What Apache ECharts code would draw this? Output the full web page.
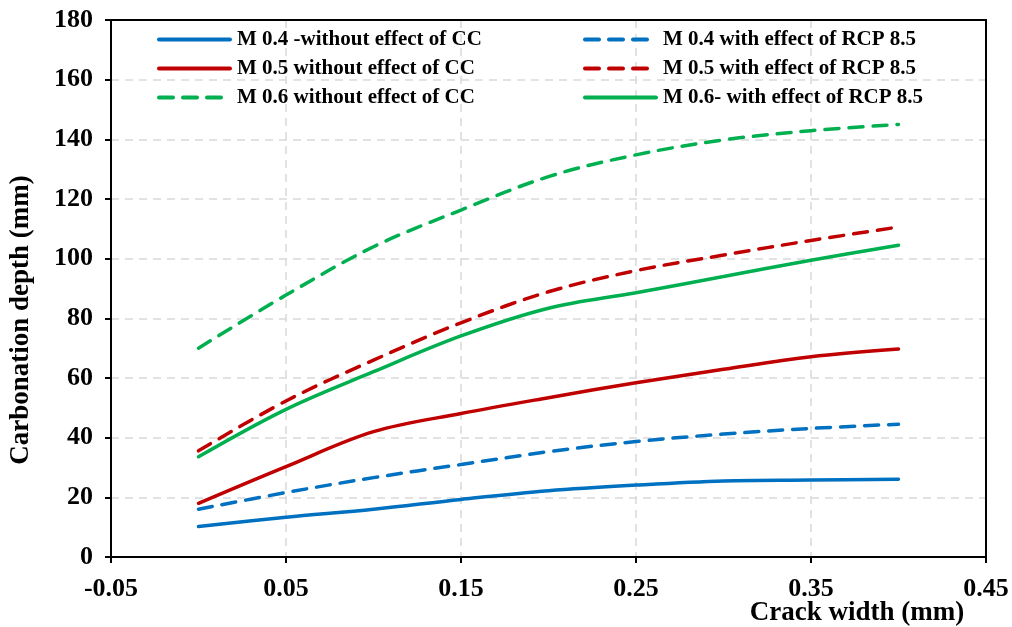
<!DOCTYPE html>
<html>
<head>
<meta charset="utf-8">
<script src="https://cdn.jsdelivr.net/npm/echarts@6/dist/echarts.min.js"></script>
<style>html,body{margin:0;padding:0;background:#fff;}#c{width:1012px;height:627px;}</style>
</head>
<body>
<div id="c"></div>
<script>
var crackWidth = [0, 0.05, 0.1, 0.15, 0.2, 0.25, 0.3, 0.35, 0.4];
var m04NoCC  = [10.2, 13.3, 16.0, 19.3, 22.2, 24.1, 25.5, 25.8, 26.1];
var m04RCP   = [16.0, 21.6, 26.6, 31.0, 35.3, 38.7, 41.2, 43.1, 44.5];
var m05NoCC  = [18.0, 30.3, 42.0, 48.1, 53.4, 58.4, 62.9, 67.1, 69.7];
var m05RCP   = [35.6, 52.3, 66.0, 78.5, 88.9, 96.0, 101.2, 106.1, 110.6];
var m06NoCC  = [70.0, 87.8, 104.0, 116.3, 127.5, 134.8, 139.8, 142.9, 145.0];
var m06RCP   = [33.6, 49.5, 62.1, 74.1, 83.4, 88.6, 94.0, 99.5, 104.5];
var seriesNames = [
  'M 0.4 -without effect of CC',
  'M 0.4 with effect of RCP 8.5',
  'M 0.5 without effect of CC',
  'M 0.5 with effect of RCP 8.5',
  'M 0.6 without effect of CC',
  'M 0.6- with effect of RCP 8.5'
];
var xTitle = 'Crack width (mm)';
var yTitle = 'Carbonation depth (mm)';

var BLUE = '#0070C0', RED = '#C00000', GREEN = '#00B050';
var FONT = '"Liberation Serif", "Times New Roman", serif';
function pairs(ys){ return crackWidth.map(function(x,i){ return [x, ys[i]]; }); }
function mk(name, ys, color, dashed){
  return {
    name: name, type: 'line', data: pairs(ys), smooth: 0.35, symbol: 'none',
    lineStyle: { color: color, width: 3.5, type: dashed ? [14, 10] : 'solid', cap: 'round' },
    itemStyle: { color: color }
  };
}
var chart = echarts.init(document.getElementById('c'));
function legendAt(left, names){
  return {
    orient: 'vertical', top: 24, left: left, itemWidth: 71, itemHeight: 14, itemGap: 8,
    data: names,
    itemStyle: { opacity: 0, borderWidth: 0 },
    lineStyle: { width: 4 },
    textStyle: { fontFamily: FONT, fontWeight: 'bold', fontSize: 21, color: '#000', padding: [0, 0, 0, 2] }
  };
}
var axisLineStyle = { color: '#000', width: 2 };
var splitStyle = { color: '#d9d9d9', width: 1.5, type: [8, 6] };
var labelFont = { fontFamily: FONT, fontWeight: 'bold', fontSize: 26, color: '#000' };
var nameFont = { fontFamily: FONT, fontWeight: 'bold', fontSize: 27, color: '#000' };
chart.setOption({
  animation: false,
  backgroundColor: '#fff',
  grid: { left: 111, right: 26, top: 20, bottom: 70, containLabel: false, outerBoundsMode: 'none' },
  legend: [
    legendAt(152, [seriesNames[0], seriesNames[2], seriesNames[4]]),
    legendAt(578, [seriesNames[1], seriesNames[3], seriesNames[5]])
  ],
  xAxis: [{
    type: 'value', min: -0.05, max: 0.45, interval: 0.1, position: 'bottom',
    axisLine: { onZero: false, lineStyle: axisLineStyle },
    axisTick: { show: true, length: 6, lineStyle: axisLineStyle },
    axisLabel: Object.assign({ margin: 19, formatter: function(v){ return v.toFixed(2); } }, labelFont),
    splitLine: { show: true, lineStyle: splitStyle },
    name: xTitle, nameLocation: 'middle', nameGap: 43, nameMoveOverlap: false,
    nameTextStyle: Object.assign({ padding: [0, 0, 0, 617] }, nameFont)
  }, {
    type: 'value', min: -0.05, max: 0.45, interval: 0.1, position: 'top',
    axisLine: { show: true, onZero: false, lineStyle: axisLineStyle },
    axisTick: { show: false }, axisLabel: { show: false }, splitLine: { show: false }
  }],
  yAxis: [{
    type: 'value', min: 0, max: 180, interval: 20, position: 'left',
    axisLine: { onZero: false, lineStyle: axisLineStyle },
    axisTick: { show: true, length: 6, lineStyle: axisLineStyle },
    axisLabel: Object.assign({ margin: 18 }, labelFont),
    splitLine: { show: true, lineStyle: splitStyle },
    name: yTitle, nameLocation: 'middle', nameGap: 76, nameRotate: 90,
    nameTextStyle: Object.assign({ padding: [0, 63, 0, 0] }, nameFont)
  }, {
    type: 'value', min: 0, max: 180, interval: 20, position: 'right',
    axisLine: { show: true, onZero: false, lineStyle: axisLineStyle },
    axisTick: { show: false }, axisLabel: { show: false }, splitLine: { show: false }
  }],
  series: [
    mk(seriesNames[0], m04NoCC, BLUE, false),
    mk(seriesNames[1], m04RCP, BLUE, true),
    mk(seriesNames[2], m05NoCC, RED, false),
    mk(seriesNames[3], m05RCP, RED, true),
    mk(seriesNames[4], m06NoCC, GREEN, true),
    mk(seriesNames[5], m06RCP, GREEN, false)
  ]
});
</script>
</body>
</html>
